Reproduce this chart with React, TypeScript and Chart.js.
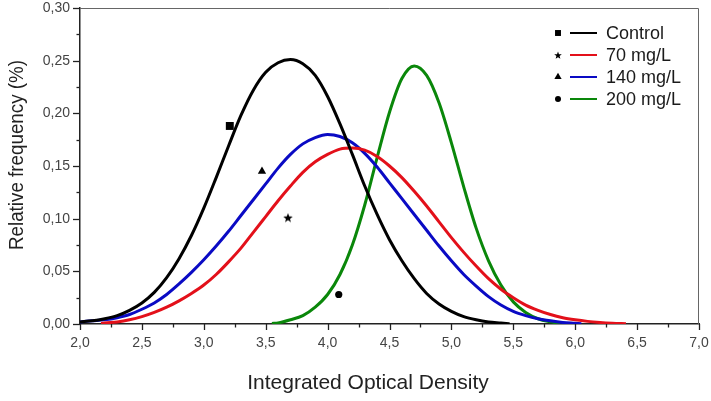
import { useEffect, useRef } from 'react';
import { Chart, registerables } from 'chart.js';
import { drawPoint } from 'chart.js/helpers';

Chart.register(...registerables);

// series names, in legend order
const seriesNames = ['Control', '70 mg/L', '140 mg/L', '200 mg/L'];

// fitted curves
const controlX = [2.0, 2.1, 2.2, 2.3, 2.4, 2.5, 2.6, 2.7, 2.8, 2.9, 3.0, 3.1, 3.2, 3.3, 3.4, 3.5, 3.6, 3.7, 3.8, 3.9, 4.0, 4.1, 4.2, 4.3, 4.4, 4.5, 4.6, 4.7, 4.8, 4.9, 5.0, 5.1, 5.2, 5.3, 5.4, 5.47];
const controlY = [0.002, 0.003, 0.005, 0.008, 0.013, 0.020, 0.030, 0.044, 0.062, 0.084, 0.110, 0.139, 0.169, 0.198, 0.222, 0.239, 0.248, 0.251, 0.247, 0.236, 0.216, 0.190, 0.161, 0.131, 0.104, 0.080, 0.060, 0.043, 0.029, 0.019, 0.012, 0.007, 0.004, 0.002, 0.001, 0.0003];

const mg70X = [2.17, 2.2, 2.3, 2.4, 2.5, 2.6, 2.7, 2.8, 2.9, 3.0, 3.1, 3.2, 3.3, 3.4, 3.5, 3.6, 3.7, 3.8, 3.9, 4.0, 4.1, 4.2, 4.3, 4.4, 4.5, 4.6, 4.7, 4.8, 4.9, 5.0, 5.1, 5.2, 5.3, 5.4, 5.5, 5.6, 5.7, 5.8, 5.9, 6.0, 6.1, 6.2, 6.3, 6.41];
const mg70Y = [0.0005, 0.001, 0.002, 0.004, 0.007, 0.011, 0.016, 0.022, 0.029, 0.037, 0.047, 0.059, 0.072, 0.087, 0.102, 0.117, 0.131, 0.144, 0.154, 0.161, 0.166, 0.167, 0.165, 0.159, 0.150, 0.139, 0.126, 0.112, 0.097, 0.082, 0.068, 0.055, 0.043, 0.033, 0.025, 0.018, 0.013, 0.009, 0.006, 0.004, 0.0025, 0.0015, 0.0008, 0.0003];

const mg140X = [2.0, 2.1, 2.2, 2.3, 2.4, 2.5, 2.6, 2.7, 2.8, 2.9, 3.0, 3.1, 3.2, 3.3, 3.4, 3.5, 3.6, 3.7, 3.8, 3.9, 4.0, 4.1, 4.2, 4.3, 4.4, 4.5, 4.6, 4.7, 4.8, 4.9, 5.0, 5.1, 5.2, 5.3, 5.4, 5.5, 5.6, 5.7, 5.8, 5.9, 6.0, 6.05];
const mg140Y = [0.002, 0.003, 0.004, 0.006, 0.009, 0.014, 0.020, 0.028, 0.038, 0.049, 0.061, 0.074, 0.088, 0.103, 0.118, 0.133, 0.148, 0.161, 0.171, 0.177, 0.180, 0.178, 0.172, 0.162, 0.149, 0.134, 0.119, 0.104, 0.089, 0.074, 0.060, 0.047, 0.036, 0.026, 0.018, 0.012, 0.008, 0.005, 0.003, 0.0015, 0.0007, 0.0003];

const mg200X = [3.55, 3.6, 3.7, 3.8, 3.9, 4.0, 4.1, 4.2, 4.3, 4.4, 4.5, 4.6, 4.7, 4.8, 4.9, 5.0, 5.1, 5.2, 5.3, 5.4, 5.5, 5.6, 5.7, 5.8, 5.88];
const mg200Y = [0.0005, 0.001, 0.004, 0.008, 0.016, 0.028, 0.047, 0.075, 0.113, 0.158, 0.201, 0.233, 0.245, 0.236, 0.210, 0.172, 0.130, 0.091, 0.060, 0.037, 0.021, 0.011, 0.005, 0.002, 0.0005];

// the single measured points
const pointX = [3.21, 3.68, 3.47, 4.09];
const pointY = [0.188, 0.101, 0.145, 0.028];

const curvesX = [controlX, mg70X, mg140X, mg200X];
const curvesY = [controlY, mg70Y, mg140Y, mg200Y];
const lineColors = ['#000000', '#e3101a', '#0a0ac4', '#0a870a'];

const FONT = '"Liberation Sans", Arial, sans-serif';

function makeStar(size: number) {
  const c = document.createElement('canvas');
  c.width = size;
  c.height = size;
  const g = c.getContext('2d')!;
  const cx = size / 2;
  const cy = size / 2 + 0.5;
  const outer = size / 2;
  const inner = outer * 0.42;
  g.beginPath();
  for (let i = 0; i < 10; i++) {
    const r = i % 2 === 0 ? outer : inner;
    const a = -Math.PI / 2 + (i * Math.PI) / 5;
    const px = cx + r * Math.cos(a);
    const py = cy + r * Math.sin(a);
    if (i === 0) g.moveTo(px, py);
    else g.lineTo(px, py);
  }
  g.closePath();
  g.fillStyle = '#000';
  g.fill();
  return c;
}

// keep the plot box where the reference has it
const noScalePadding = (s: any) => {
  s.paddingTop = 0;
  s.paddingBottom = 0;
  s.paddingLeft = 0;
  s.paddingRight = 0;
};

export default function App() {
  const canvasRef = useRef<HTMLCanvasElement | null>(null);
  const chartRef = useRef<Chart | null>(null);

  useEffect(() => {
    if (!canvasRef.current) return;
    document.body.style.margin = '0';

    if (chartRef.current) {
      chartRef.current.destroy();
    }

    const plotStar = makeStar(10);
    const legendStar = makeStar(8);
    const markerStyles: any[] = ['rect', plotStar, 'triangle', 'circle'];
    const legendStyles: any[] = ['rect', legendStar, 'triangle', 'circle'];
    const markerRadius = [5.6, 5, 4.8, 3.6];
    const legendRadius = [4.2, 4, 4.2, 3];

    const lineSets = curvesX.map((xs, i) => ({
      type: 'line' as const,
      label: seriesNames[i],
      data: xs.map((x, j) => ({ x, y: curvesY[i][j] })),
      borderColor: lineColors[i],
      borderWidth: 3,
      pointRadius: 0,
      cubicInterpolationMode: 'monotone' as const,
      fill: false,
    }));

    const pointSet = {
      type: 'scatter' as const,
      label: 'points',
      data: pointX.map((x, i) => ({ x, y: pointY[i] })),
      pointStyle: markerStyles,
      pointRadius: markerRadius,
      backgroundColor: '#000',
      borderColor: '#000',
      borderWidth: 0,
    };

    // tick marks (long major, short minor), frame, legend and axis titles
    const decor = {
      id: 'decor',
      afterDraw(chart: any) {
        const { ctx, chartArea } = chart;
        const xs = chart.scales.x;
        const ys = chart.scales.y;
        ctx.save();

        // frame on top and right
        ctx.strokeStyle = '#666';
        ctx.lineWidth = 1;
        ctx.beginPath();
        ctx.moveTo(chartArea.left, chartArea.top + 0.5);
        ctx.lineTo(chartArea.right - 0.5, chartArea.top + 0.5);
        ctx.lineTo(chartArea.right - 0.5, chartArea.bottom);
        ctx.stroke();

        ctx.strokeStyle = '#222';
        ctx.lineWidth = 1.3;
        xs.ticks.forEach((t: any) => {
          const major = Math.round(t.value * 100) % 50 === 0;
          const px = Math.round(xs.getPixelForValue(t.value)) + 0.5;
          ctx.beginPath();
          ctx.moveTo(px, chartArea.bottom);
          ctx.lineTo(px, chartArea.bottom + (major ? 6 : 3.5));
          ctx.stroke();
        });
        ys.ticks.forEach((t: any) => {
          const major = Math.round(t.value * 1000) % 50 === 0;
          const py = Math.round(ys.getPixelForValue(t.value)) + 0.5;
          ctx.beginPath();
          ctx.moveTo(chartArea.left, py);
          ctx.lineTo(chartArea.left - (major ? 7 : 3.5), py);
          ctx.stroke();
        });

        // legend
        const rowY = [33, 55, 77, 99];
        ctx.font = `18px ${FONT}`;
        ctx.textBaseline = 'middle';
        ctx.textAlign = 'left';
        seriesNames.forEach((name, i) => {
          const y = rowY[i];
          ctx.fillStyle = '#000';
          ctx.strokeStyle = '#000';
          drawPoint(ctx, { pointStyle: legendStyles[i], radius: legendRadius[i], rotation: 0, borderWidth: 0 }, 558, y);
          ctx.strokeStyle = lineColors[i];
          ctx.lineWidth = 2;
          ctx.beginPath();
          ctx.moveTo(570, y);
          ctx.lineTo(597, y);
          ctx.stroke();
          ctx.fillStyle = '#1a1a1a';
          ctx.fillText(name, 606, y + 1);
        });

        // axis titles
        ctx.fillStyle = '#222';
        ctx.textAlign = 'center';
        ctx.font = `21px ${FONT}`;
        ctx.fillText('Integrated Optical Density', 368, 383);
        ctx.font = `20px ${FONT}`;
        ctx.translate(17, 155);
        ctx.rotate(-Math.PI / 2);
        ctx.scale(0.94, 1);
        ctx.fillText('Relative frequency (%)', 0, 0);
        ctx.restore();
      },
    };

    const ctx = canvasRef.current.getContext('2d');
    if (ctx) {
      chartRef.current = new Chart(ctx, {
        type: 'line',
        data: { datasets: [...lineSets, pointSet] as any },
        options: {
          responsive: false,
          animation: false,
          layout: { padding: { top: 8, right: 12, left: 0, bottom: 0 } },
          plugins: {
            legend: { display: false },
            tooltip: { enabled: false },
          },
          scales: {
            x: {
              type: 'linear',
              min: 2,
              max: 7,
              grid: { display: false, drawTicks: false },
              border: { display: true, color: '#222', width: 1.5 },
              afterFit: (s: any) => {
                s.height = 77;
                noScalePadding(s);
              },
              ticks: {
                stepSize: 0.25,
                autoSkip: false,
                maxRotation: 0,
                padding: 11,
                color: '#444',
                font: { family: FONT, size: 14 },
                callback: (v: any) => (Math.round(v * 100) % 50 === 0 ? Number(v).toFixed(1).replace('.', ',') : ''),
              },
            },
            y: {
              type: 'linear',
              min: 0,
              max: 0.3,
              grid: { display: false, drawTicks: false },
              border: { display: true, color: '#222', width: 1.5 },
              afterFit: (s: any) => {
                s.width = 80;
                noScalePadding(s);
              },
              ticks: {
                stepSize: 0.025,
                autoSkip: false,
                padding: 10,
                color: '#444',
                font: { family: FONT, size: 14 },
                callback: (v: any) => (Math.round(v * 1000) % 50 === 0 ? Number(v).toFixed(2).replace('.', ',') : ''),
              },
            },
          },
        },
        plugins: [decor],
      });
    }

    return () => {
      if (chartRef.current) {
        chartRef.current.destroy();
        chartRef.current = null;
      }
    };
  }, []);

  return (
    <div style={{ width: 711, height: 401, background: '#fff' }}>
      <canvas ref={canvasRef} width={711} height={401} style={{ width: 711, height: 401 }} />
    </div>
  );
}
